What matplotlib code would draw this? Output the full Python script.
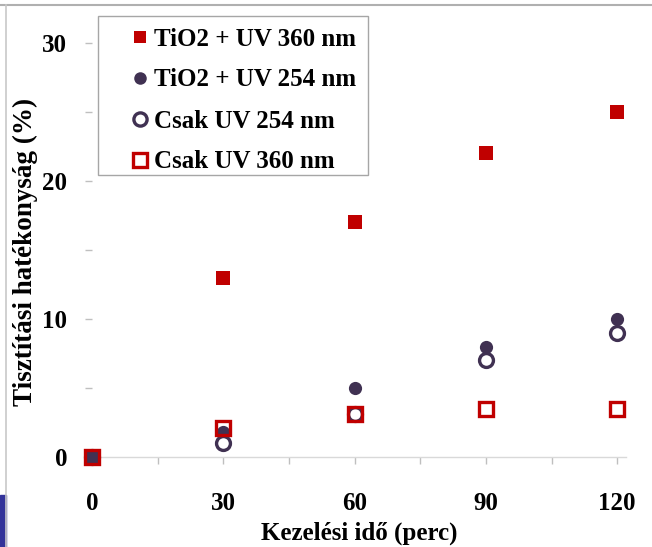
import matplotlib
matplotlib.use("Agg")
import matplotlib.pyplot as plt
from matplotlib.patches import Rectangle
from matplotlib.lines import Line2D

time = [0, 30, 60, 90, 120]
tio2_uv360 = [0, 13, 17, 22, 25]
tio2_uv254 = [0, 1.8, 5, 8, 10]
csak_uv254 = [0, 1, 3.1, 7, 9]
csak_uv360 = [0, 2.1, 3.1, 3.5, 3.5]
labels = ["TiO2 + UV 360 nm", "TiO2 + UV 254 nm", "Csak UV 254 nm", "Csak UV 360 nm"]
xticks = [0, 30, 60, 90, 120]
yticks = [0, 10, 20, 30]

RED = "#C00000"
PURPLE = "#403152"
GRAY = "#BFBFBF"

plt.rcParams["font.family"] = ["Liberation Serif", "DejaVu Serif"]
plt.rcParams["font.weight"] = "bold"

W, H = 652, 547
fig = plt.figure(figsize=(W / 100, H / 100), dpi=100)
ax = fig.add_axes([92 / W, (H - 457) / H, 534 / W, 428 / H])

h1, = ax.plot(time, tio2_uv360, ls="none", marker="s", ms=9.5, mfc=RED, mec=RED, mew=0, clip_on=False, zorder=3)
h2, = ax.plot(time, tio2_uv254, ls="none", marker="o", ms=9.5, mfc=PURPLE, mec=PURPLE, mew=0, clip_on=False, zorder=4)
h3, = ax.plot(time, csak_uv254, ls="none", marker="o", ms=10, mfc="white", mec=PURPLE, mew=2.4, clip_on=False, zorder=5)
h4, = ax.plot(time, csak_uv360, ls="none", marker="s", ms=10.5, mfc="none", mec=RED, mew=2.4, clip_on=False, zorder=6)
# at t=0 the filled markers show inside the open square
ax.plot(time[:1], tio2_uv254[:1], ls="none", marker="s", ms=9, mfc=PURPLE, mec=PURPLE, mew=0, clip_on=False, zorder=5.5)

ax.set_xlim(0, 122)
ax.set_ylim(0, 31)

for s in ["top", "right", "left"]:
    ax.spines[s].set_visible(False)
ax.spines["bottom"].set_color("#D9D9D9")
ax.spines["bottom"].set_linewidth(1.0)

ax.set_xticks(xticks)
ax.set_xticks(range(15, 121, 30), minor=True)
ax.set_yticks(yticks)
ax.set_yticks([5, 15, 25], minor=True)
ax.tick_params(axis="x", which="both", direction="out", length=5, width=1, color=GRAY, pad=20, labelsize=18)
ax.tick_params(axis="y", which="both", direction="out", length=5, width=1, color=GRAY, pad=13, labelsize=18)
for lab in ax.get_xticklabels() + ax.get_yticklabels():
    lab.set_fontweight("bold")

ax.set_xlabel("Kezelési idő (perc)", fontsize=18, fontweight="bold")
ax.xaxis.set_label_coords(0.5, -(533 - 457) / 428)
ax.xaxis.label.set_verticalalignment("center")
ax.set_ylabel("Tisztítási hatékonyság (%)", fontsize=19.5, fontweight="bold")
ax.yaxis.set_label_coords(-54 / 534, 0.479)

leg = ax.legend([h1, h2, h3, h4], labels, loc="upper left", bbox_to_anchor=(28 / 534, (457 - 15) / 428),
                prop={"size": 18, "weight": "bold"}, frameon=False,
                handlelength=0.6, handletextpad=0.25, labelspacing=0.72,
                borderpad=0.5, markerscale=0.95, borderaxespad=0)
# legend frame
fig.add_artist(Rectangle((98 / W, 1 - 175 / H), 270 / W, 159 / H, fill=False,
                         edgecolor="#A6A6A6", lw=1.0, transform=fig.transFigure))

# slide frame artifacts
fig.add_artist(Line2D([0, 1], [1 - 5 / H, 1 - 5 / H], color="#B0B0B0", lw=1.5, transform=fig.transFigure))
fig.add_artist(Line2D([6 / W, 6 / W], [0, 1 - 5 / H], color="#C8C8C8", lw=1.2, transform=fig.transFigure))
fig.add_artist(Rectangle((0, 0), 6 / W, 52 / H, color="#33339A", transform=fig.transFigure))

fig.savefig("out.png", dpi=100, facecolor="white")
